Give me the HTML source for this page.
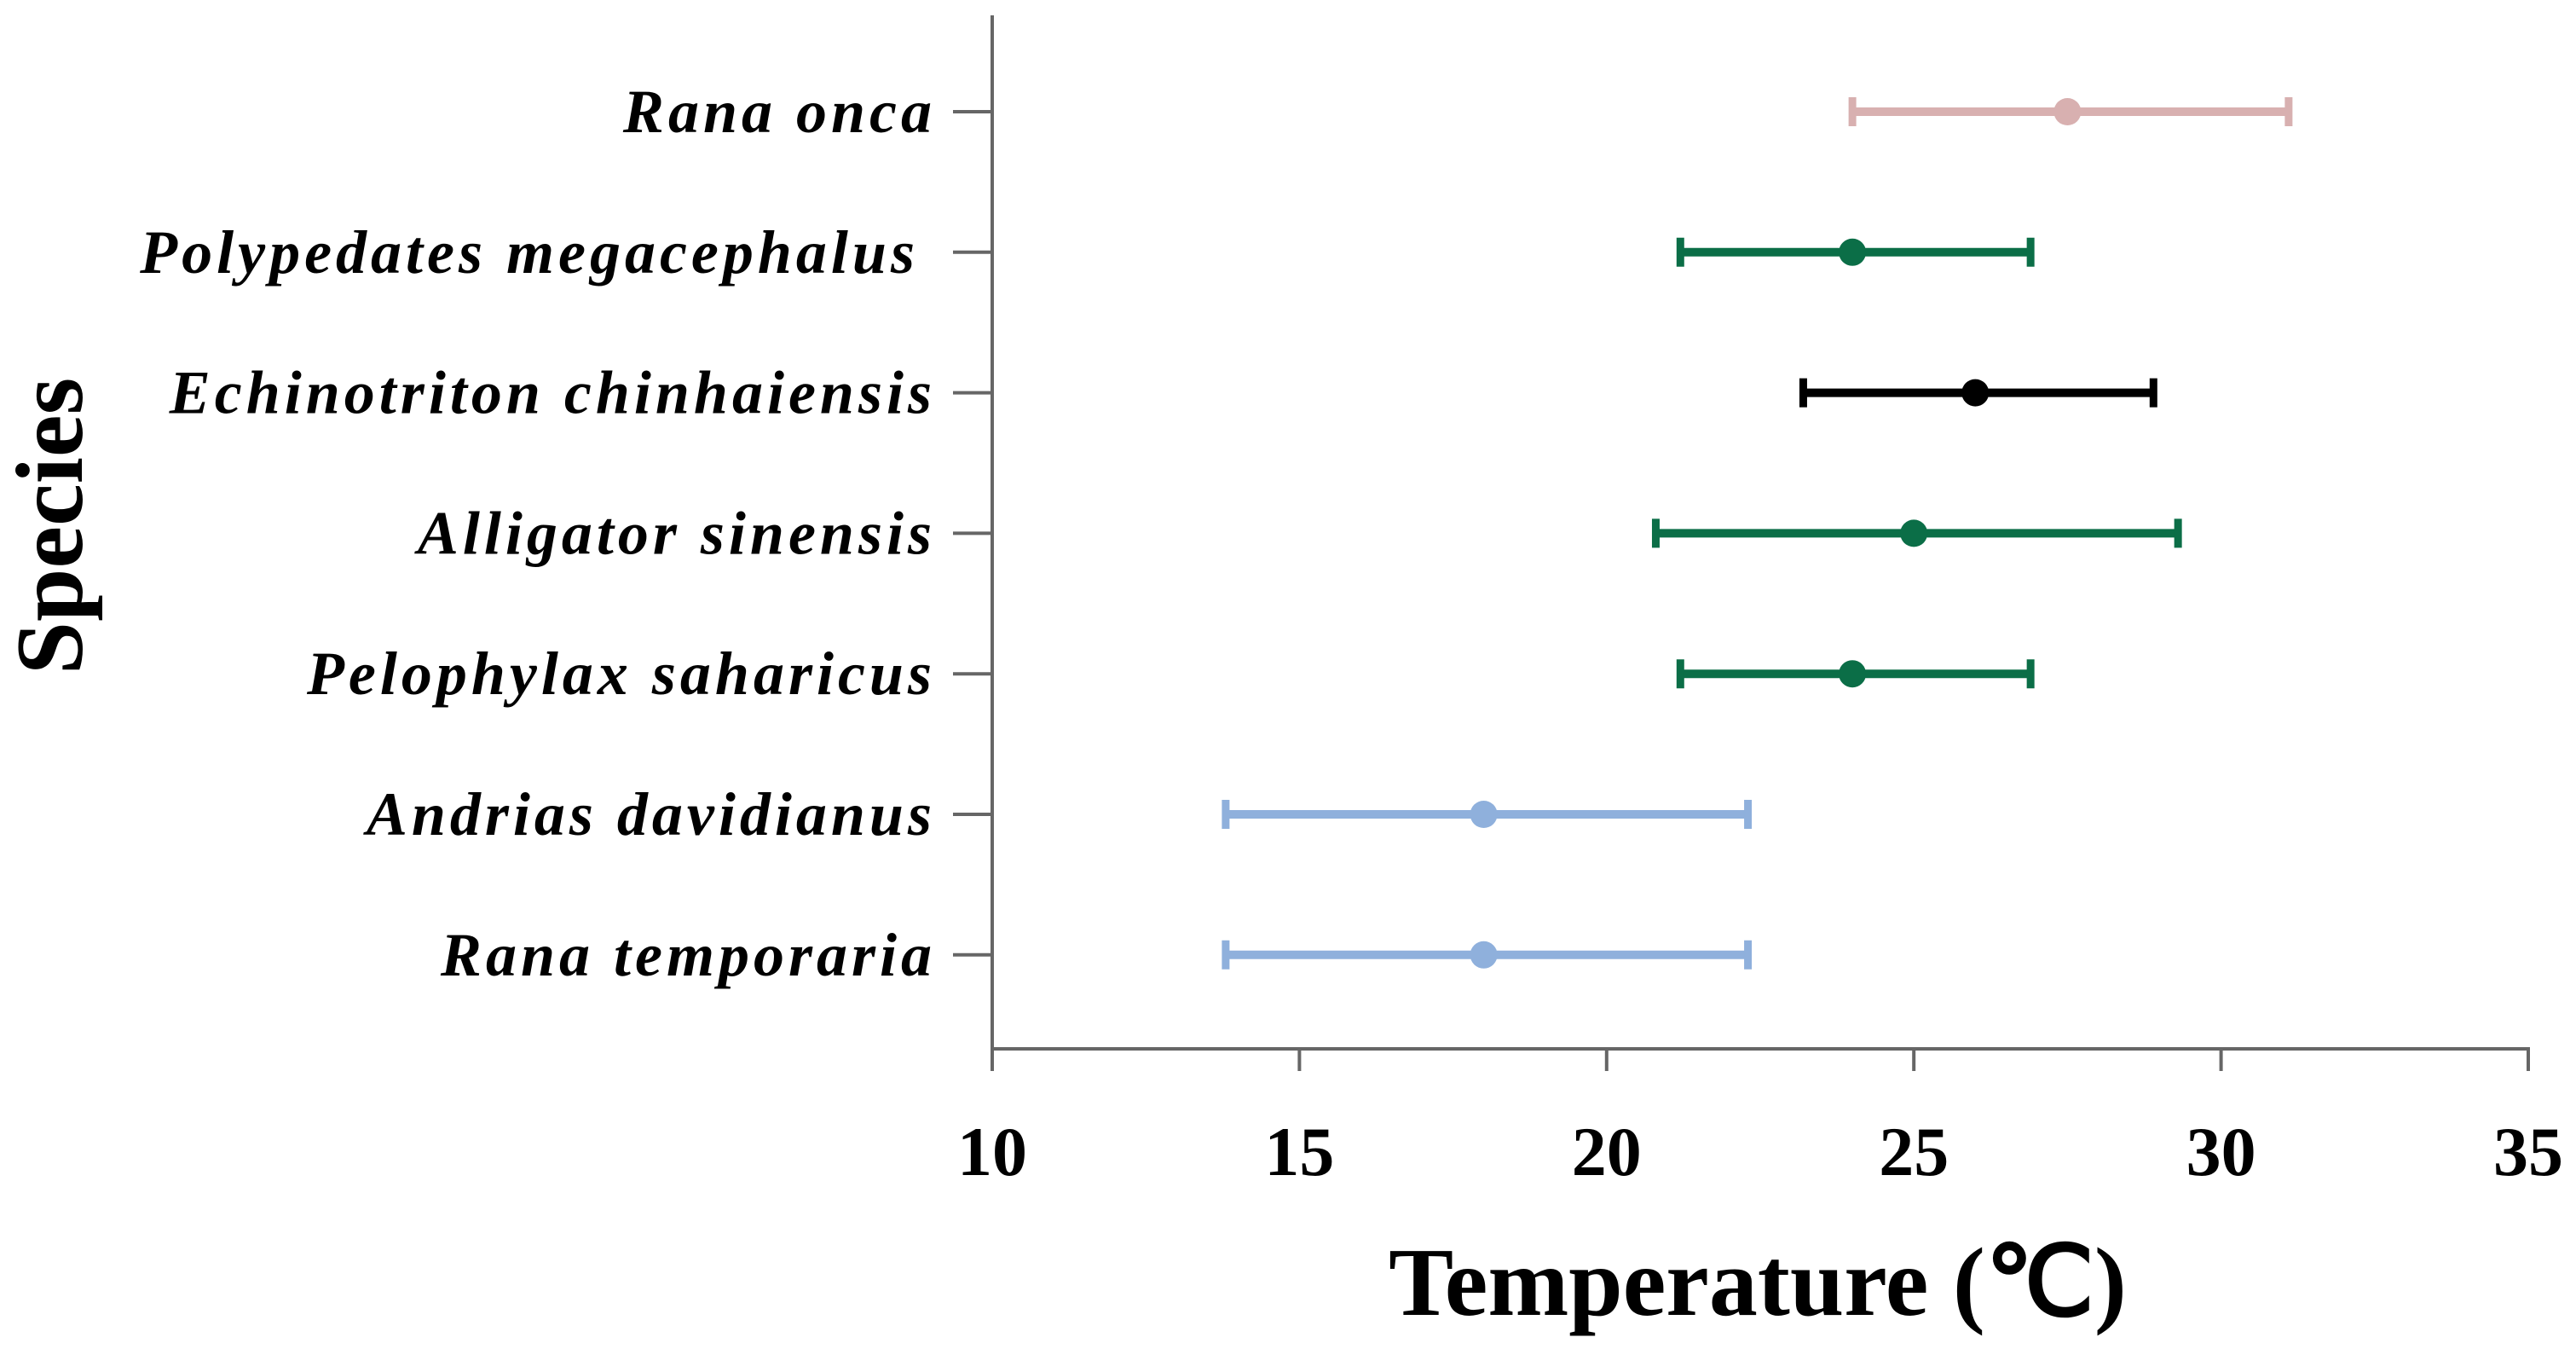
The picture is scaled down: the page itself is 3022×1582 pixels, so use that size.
<!DOCTYPE html>
<html><head><meta charset="utf-8"><style>
html,body{margin:0;padding:0;background:#fff;}
svg{display:block;}
text{font-family:"Liberation Serif",serif;font-weight:bold;fill:#000;}
</style></head><body>
<svg id="chart" width="3022" height="1582" viewBox="0 0 3022 1582">
<g id="axes"></g><g id="marks"></g>
<text x="2062" y="1542" font-size="114" text-anchor="middle">Temperature (℃)</text>
<text transform="translate(96,617) rotate(-90)" font-size="112" text-anchor="middle">Species</text>
</svg>
<script>
const species = ["Rana onca","Polypedates megacephalus","Echinotriton chinhaiensis","Alligator sinensis","Pelophylax saharicus","Andrias davidianus","Rana temporaria"];
const lows = [24.0,21.2,23.2,20.8,21.2,13.8,13.8];
const means = [27.5,24.0,26.0,25.0,24.0,18.0,18.0];
const highs = [31.1,26.9,28.9,29.3,26.9,22.3,22.3];
const colors = ["#d8b0b0","#0b6e47","#000000","#0b6e47","#0b6e47","#8fb0dc","#8fb0dc"];
const xTicks = [10,15,20,25,30,35];
const NS="http://www.w3.org/2000/svg";
const X0=1164,X1=2966,XMIN=10,XMAX=35;
const xs=v=>X0+(v-XMIN)/(XMAX-XMIN)*(X1-X0);
const ROW0=131,ROWSTEP=164.8;
const ys=i=>ROW0+i*ROWSTEP;
const AXY=1230;
function mk(tag,attrs,parent){const e=document.createElementNS(NS,tag);for(const k in attrs)e.setAttribute(k,attrs[k]);parent.appendChild(e);return e;}
const axes=document.getElementById('axes'),marks=document.getElementById('marks');
let e=mk('line',{x1:X0,y1:18,x2:X0,y2:AXY,stroke:'#666',"stroke-width":4},axes);


e=mk('line',{x1:X0-2,y1:AXY,x2:X1+2,y2:AXY,stroke:'#666',"stroke-width":4},axes);


xTicks.forEach(t=>{
  const x=xs(t);
  let l=mk('line',{x1:x,y1:AXY,x2:x,y2:AXY+26,stroke:'#666',"stroke-width":4},axes);
  
  
  let tx=mk('text',{x:x,y:1378,"font-size":82,"text-anchor":"middle"},axes);
  tx.textContent=t;
  
  
});
species.forEach((s,i)=>{
  const y=ys(i);
  let l=mk('line',{x1:X0-46,y1:y,x2:X0,y2:y,stroke:'#666',"stroke-width":4},axes);
  
  
  const right = i===1 ? 1078 : 1098;
  let tx=mk('text',{x:right,y:y+24,"font-size":72,"font-style":"italic","text-anchor":"end","letter-spacing":5},axes);
  tx.textContent=s;
  
  
  const g=mk('g',{},marks);
  
  
  const c=colors[i];
  mk('line',{x1:xs(lows[i]),y1:y,x2:xs(highs[i]),y2:y,stroke:c,"stroke-width":10},g);
  mk('line',{x1:xs(lows[i]),y1:y-17,x2:xs(lows[i]),y2:y+17,stroke:c,"stroke-width":9},g);
  mk('line',{x1:xs(highs[i]),y1:y-17,x2:xs(highs[i]),y2:y+17,stroke:c,"stroke-width":9},g);
  const p=mk('circle',{cx:xs(means[i]),cy:y,r:16,fill:c},g);
  
  
});
</script>
</body></html>
